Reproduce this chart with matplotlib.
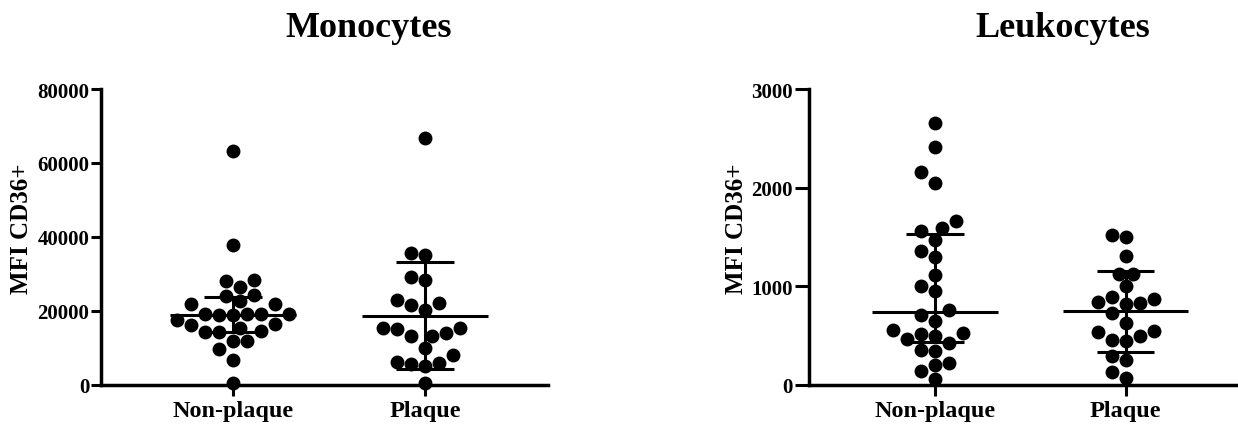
import numpy as np
import matplotlib
matplotlib.use("Agg")
import matplotlib.pyplot as plt

plt.rcParams.update({'font.family': 'Liberation Serif',
                     'font.weight': 'bold',
                     'axes.linewidth': 2.5})

groups = ['Non-plaque', 'Plaque']

# Monocytes, MFI CD36+
mono_nonplaque = [63300, 37700, 28400, 28000, 26400, 24200, 22600, 24000, 21700, 21900,
                  19000, 18900, 19100, 18900, 19000, 19100, 17400, 16300, 16200, 15200,
                  14300, 14200, 14400, 11900, 11800, 9700, 6700, 300]
mono_plaque = [66600, 35100, 35700, 29000, 28200, 22100, 22800, 20300, 21400, 15400,
               14900, 15400, 13200, 13000, 13900, 9800, 8000, 6200, 5600, 5100, 5800, 400]
mono_center = [18950, 18600]
mono_low = [14150, 4200]
mono_high = [23700, 33100]

# Leukocytes, MFI CD36+
leuko_nonplaque = [2658, 2413, 2161, 2043, 1663, 1596, 1556, 1465, 1361, 1297, 1112, 1001,
                   951, 759, 709, 649, 531, 554, 514, 497, 470, 430, 346, 353, 202, 228,
                   144, 60]
leuko_plaque = [1495, 1522, 1304, 1129, 1129, 1001, 890, 840, 817, 833, 874, 733, 548,
                497, 447, 457, 538, 625, 296, 252, 134, 67]
leuko_center = [740, 750]
leuko_low = [437, 336]
leuko_high = [1532, 1160]

W, H = 1238, 427
fig = plt.figure(figsize=(W / 100, H / 100), dpi=100)


def swarm(values, px_y, d=14.0, step=7.0):
    # simple beeswarm in pixel space, returns offsets in pixels
    values = np.asarray(values, float)
    offs = np.zeros(len(values))
    placed = []
    for i in np.argsort(values):
        y = values[i] * px_y
        k = 0
        found = None
        while found is None:
            cands = [0.0] if k == 0 else [k * step, -k * step]
            if k % 2 == 0:
                cands = cands[::-1]
            for c in cands:
                if all((c - px) ** 2 + (y - py) ** 2 >= d * d for px, py in placed):
                    found = c
                    break
            k += 1
        placed.append((found, y))
        offs[i] = found
    return offs


def panel(rect, xlim, ymax, yticks, data, center, low, high, title, title_x):
    ax = fig.add_axes(rect)
    ax.set_xlim(*xlim)
    ax.set_ylim(0, ymax)
    px_x = rect[2] * W / (xlim[1] - xlim[0])
    px_y = rect[3] * H / ymax
    for i, vals in enumerate(data):
        off = swarm(vals, px_y) / px_x
        ax.plot(i + off, vals, 'o', color='black', ms=9, clip_on=False, zorder=3)
    xs = np.arange(len(data))
    ax.hlines(center, xs - 0.33, xs + 0.33, color='black', lw=2.2, zorder=2)
    ax.vlines(xs, low, high, color='black', lw=2.2, zorder=2)
    ax.hlines(low, xs - 0.15, xs + 0.15, color='black', lw=2.2, zorder=2)
    ax.hlines(high, xs - 0.15, xs + 0.15, color='black', lw=2.2, zorder=2)
    ax.spines['top'].set_visible(False)
    ax.spines['right'].set_visible(False)
    ax.set_xticks(xs)
    ax.set_xticklabels(groups, fontsize=17.5, fontweight='bold')
    ax.set_yticks(yticks)
    ax.set_yticklabels([str(t) for t in yticks], fontsize=15, fontweight='bold')
    ax.tick_params(axis='y', length=7, width=2.2, pad=1.5)
    ax.tick_params(axis='x', length=8, width=2.2, pad=3)
    ax.set_ylabel('MFI CD36+', fontsize=18, fontweight='bold')
    fig.text(title_x / W, 1 - 37 / H, title, ha='center', va='baseline',
             fontsize=26, fontweight='bold')
    return ax


ax1 = panel([101 / W, 41.5 / H, 447 / W, 295.5 / H], (-0.6875, 1.64), 80000,
            [0, 20000, 40000, 60000, 80000], [mono_nonplaque, mono_plaque],
            mono_center, mono_low, mono_high, 'Monocytes', 369)
ax1.yaxis.set_label_coords(-0.152, 0.53)

ax2 = panel([809 / W, 41 / H, 428 / W, 296 / H], (-0.661, 1.585), 3000,
            [0, 1000, 2000, 3000], [leuko_nonplaque, leuko_plaque],
            leuko_center, leuko_low, leuko_high, 'Leukocytes', 1063)
ax2.tick_params(axis='y', length=10)
ax2.yaxis.set_label_coords(-0.1425, 0.53)

fig.savefig('out.png', dpi=100)
